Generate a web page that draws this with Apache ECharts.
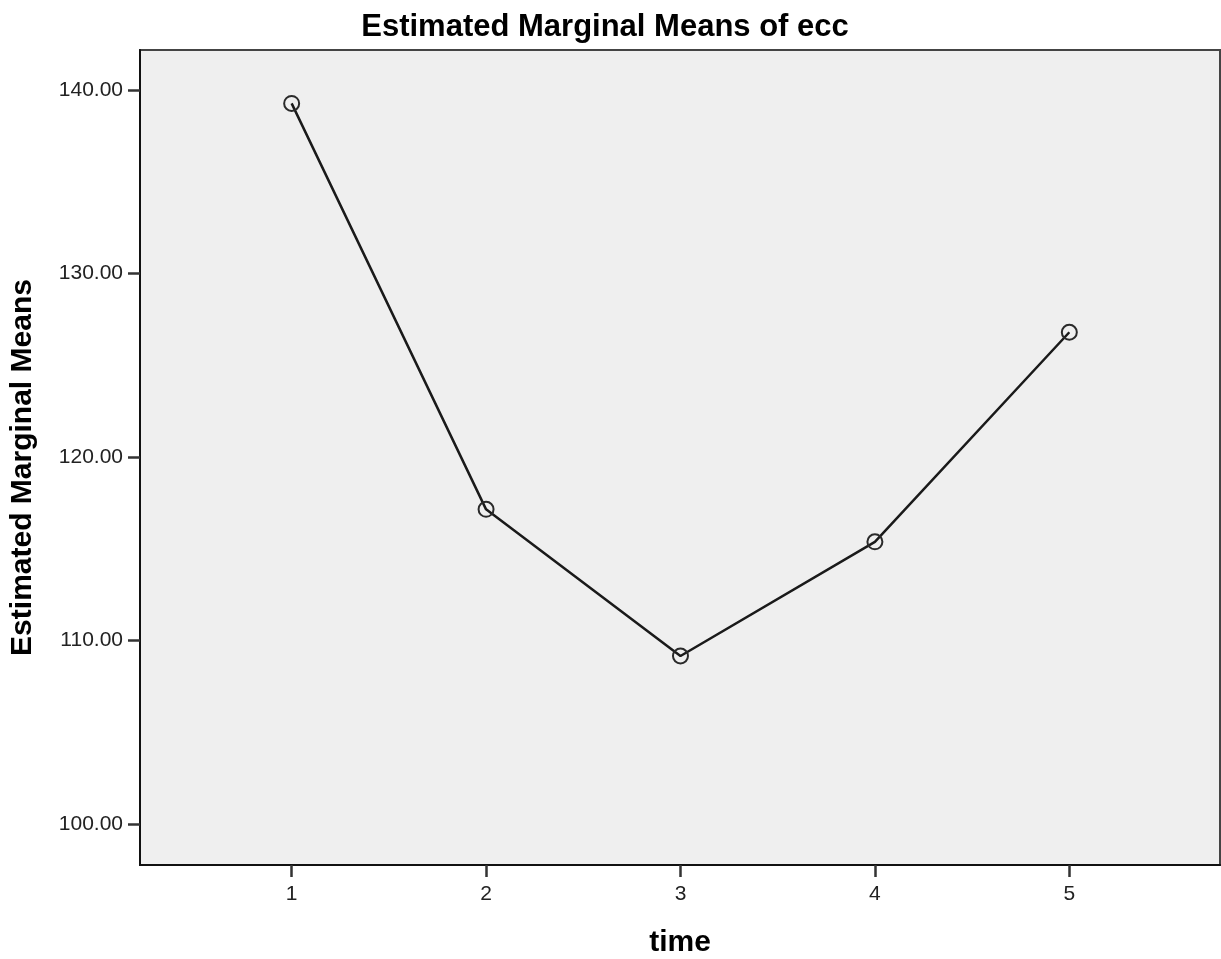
<!DOCTYPE html>
<html>
<head>
<meta charset="utf-8">
<script src="https://cdn.jsdelivr.net/npm/echarts@6/dist/echarts.min.js"></script>
<style>
html,body{margin:0;padding:0;background:#fff;}
#chart{width:1221px;height:959px;}
</style>
</head>
<body>
<div id="chart"></div>
<script>
const timePoints = [1, 2, 3, 4, 5];
const meanValues = [139.27, 117.15, 109.16, 115.38, 126.80];
const yTicks = [100, 110, 120, 130, 140];
const xTicks = [1, 2, 3, 4, 5];

const chart = echarts.init(document.getElementById('chart'), null, {renderer: 'canvas'});
const font = '"Liberation Sans", Arial, sans-serif';
chart.setOption({
  animation: false,
  backgroundColor: '#ffffff',
  title: {
    text: 'Estimated Marginal Means of ecc',
    left: 600,
    top: 7,
    textAlign: 'center',
    textStyle: {fontFamily: font, fontSize: 31, fontWeight: 'bold', color: '#000'}
  },
  grid: {
    left: 140, right: 1, top: 50, bottom: 94,
    outerBoundsMode: 'none',
    containLabel: false,
    show: true, backgroundColor: '#efefef', borderColor: '#444', borderWidth: 2
  },
  xAxis: {
    type: 'value',
    min: 0.22, max: 5.775,
    name: 'time',
    nameLocation: 'middle',
    nameGap: 63,
    nameTextStyle: {fontFamily: font, fontSize: 30, fontWeight: 'bold', color: '#000'},
    axisLine: {show: true, lineStyle: {color: '#111', width: 2}},
    axisTick: {show: true, length: 12, lineStyle: {color: '#333', width: 2.5}, customValues: xTicks},
    axisLabel: {customValues: xTicks, margin: 19, fontFamily: font, fontSize: 21, color: '#222'},
    splitLine: {show: false}
  },
  yAxis: {
    type: 'value',
    min: 97.77, max: 142.18,
    name: 'Estimated Marginal Means',
    nameLocation: 'middle',
    nameRotate: 90,
    nameGap: 102,
    nameTextStyle: {fontFamily: font, fontSize: 30, fontWeight: 'bold', color: '#000', padding: [0, 20, 0, 0]},
    axisLine: {show: true, lineStyle: {color: '#111', width: 2}},
    axisTick: {show: true, length: 12, lineStyle: {color: '#333', width: 2.5}, customValues: yTicks},
    axisLabel: {customValues: yTicks, margin: 17, fontFamily: font, fontSize: 21, color: '#222',
      formatter: v => v.toFixed(2)},
    splitLine: {show: false}
  },
  series: [{
    type: 'line',
    data: timePoints.map((t, i) => [t, meanValues[i]]),
    symbol: 'circle',
    symbolSize: 15,
    lineStyle: {color: '#1a1a1a', width: 2.5},
    itemStyle: {color: 'rgba(0,0,0,0)', borderColor: '#2a2a2a', borderWidth: 2}
  }]
});
</script>
</body>
</html>
